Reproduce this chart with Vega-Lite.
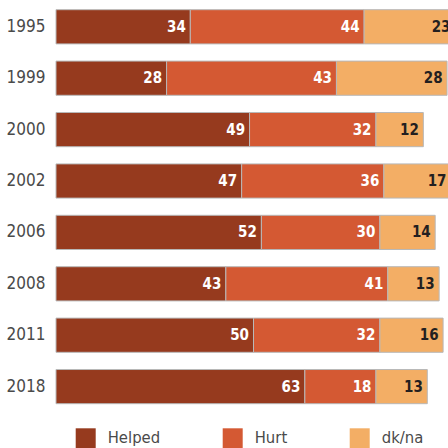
{
  "$schema": "https://vega.github.io/schema/vega-lite/v6.json",
  "width": 395,
  "height": 394,
  "autosize": {"type": "none"},
  "padding": {"left": 56, "top": 9.7, "right": 0, "bottom": 44.3},
  "background": "white",
  "config": {"view": {"stroke": null}},
  "data": {
    "values": [
      {"year": "1995", "category": "Helped", "ord": 1, "value": 34},
      {"year": "1995", "category": "Hurt", "ord": 2, "value": 44},
      {"year": "1995", "category": "dk/na", "ord": 3, "value": 23},
      {"year": "1999", "category": "Helped", "ord": 1, "value": 28},
      {"year": "1999", "category": "Hurt", "ord": 2, "value": 43},
      {"year": "1999", "category": "dk/na", "ord": 3, "value": 28},
      {"year": "2000", "category": "Helped", "ord": 1, "value": 49},
      {"year": "2000", "category": "Hurt", "ord": 2, "value": 32},
      {"year": "2000", "category": "dk/na", "ord": 3, "value": 12},
      {"year": "2002", "category": "Helped", "ord": 1, "value": 47},
      {"year": "2002", "category": "Hurt", "ord": 2, "value": 36},
      {"year": "2002", "category": "dk/na", "ord": 3, "value": 17},
      {"year": "2006", "category": "Helped", "ord": 1, "value": 52},
      {"year": "2006", "category": "Hurt", "ord": 2, "value": 30},
      {"year": "2006", "category": "dk/na", "ord": 3, "value": 14},
      {"year": "2008", "category": "Helped", "ord": 1, "value": 43},
      {"year": "2008", "category": "Hurt", "ord": 2, "value": 41},
      {"year": "2008", "category": "dk/na", "ord": 3, "value": 13},
      {"year": "2011", "category": "Helped", "ord": 1, "value": 50},
      {"year": "2011", "category": "Hurt", "ord": 2, "value": 32},
      {"year": "2011", "category": "dk/na", "ord": 3, "value": 16},
      {"year": "2018", "category": "Helped", "ord": 1, "value": 63},
      {"year": "2018", "category": "Hurt", "ord": 2, "value": 18},
      {"year": "2018", "category": "dk/na", "ord": 3, "value": 13}
    ]
  },
  "transform": [
    {"stack": "value", "groupby": ["year"], "sort": [{"field": "ord", "order": "ascending"}], "as": ["x0", "x1"]}
  ],
  "encoding": {
    "y": {
      "field": "year",
      "type": "nominal",
      "sort": ["1995", "1999", "2000", "2002", "2006", "2008", "2011", "2018"],
      "scale": {"paddingInner": 0.335, "paddingOuter": 0},
      "axis": {
        "title": null,
        "domain": false,
        "ticks": false,
        "labelPadding": 11,
        "labelFont": "DejaVu Sans Condensed",
        "labelFontSize": 17,
        "labelColor": "#4a4a4a",
        "labelFontWeight": "normal"
      }
    }
  },
  "layer": [
    {
      "mark": {"type": "bar", "stroke": "#b8b8b8", "strokeWidth": 1},
      "encoding": {
        "x": {"field": "x0", "type": "quantitative", "scale": {"domain": [0, 100]}, "axis": null},
        "x2": {"field": "x1"},
        "color": {
          "field": "category",
          "type": "nominal",
          "scale": {"domain": ["Helped", "Hurt", "dk/na"], "range": ["#963a1e", "#d45933", "#f3ae65"]},
          "legend": {
            "orient": "none",
            "legendX": 19.7,
            "legendY": 418.6,
            "direction": "horizontal",
            "title": null,
            "symbolType": "square",
            "symbolSize": 400,
            "symbolStrokeWidth": 0,
            "symbolOpacity": 1,
            "labelOffset": 12,
            "columnPadding": 62,
            "labelFont": "DejaVu Sans Condensed",
            "labelFontSize": 16.5,
            "labelColor": "#4a4a4a",
            "padding": 0
          }
        }
      }
    },
    {
      "mark": {
        "type": "text",
        "align": "right",
        "baseline": "middle",
        "dx": -4.5,
        "fontWeight": "bold",
        "fontSize": 15,
        "font": "DejaVu Sans Condensed"
      },
      "encoding": {
        "x": {"field": "x1", "type": "quantitative"},
        "text": {"field": "value", "type": "quantitative"},
        "color": {"condition": {"test": "datum.category === 'dk/na'", "value": "#231f20"}, "value": "white"}
      }
    }
  ]
}
